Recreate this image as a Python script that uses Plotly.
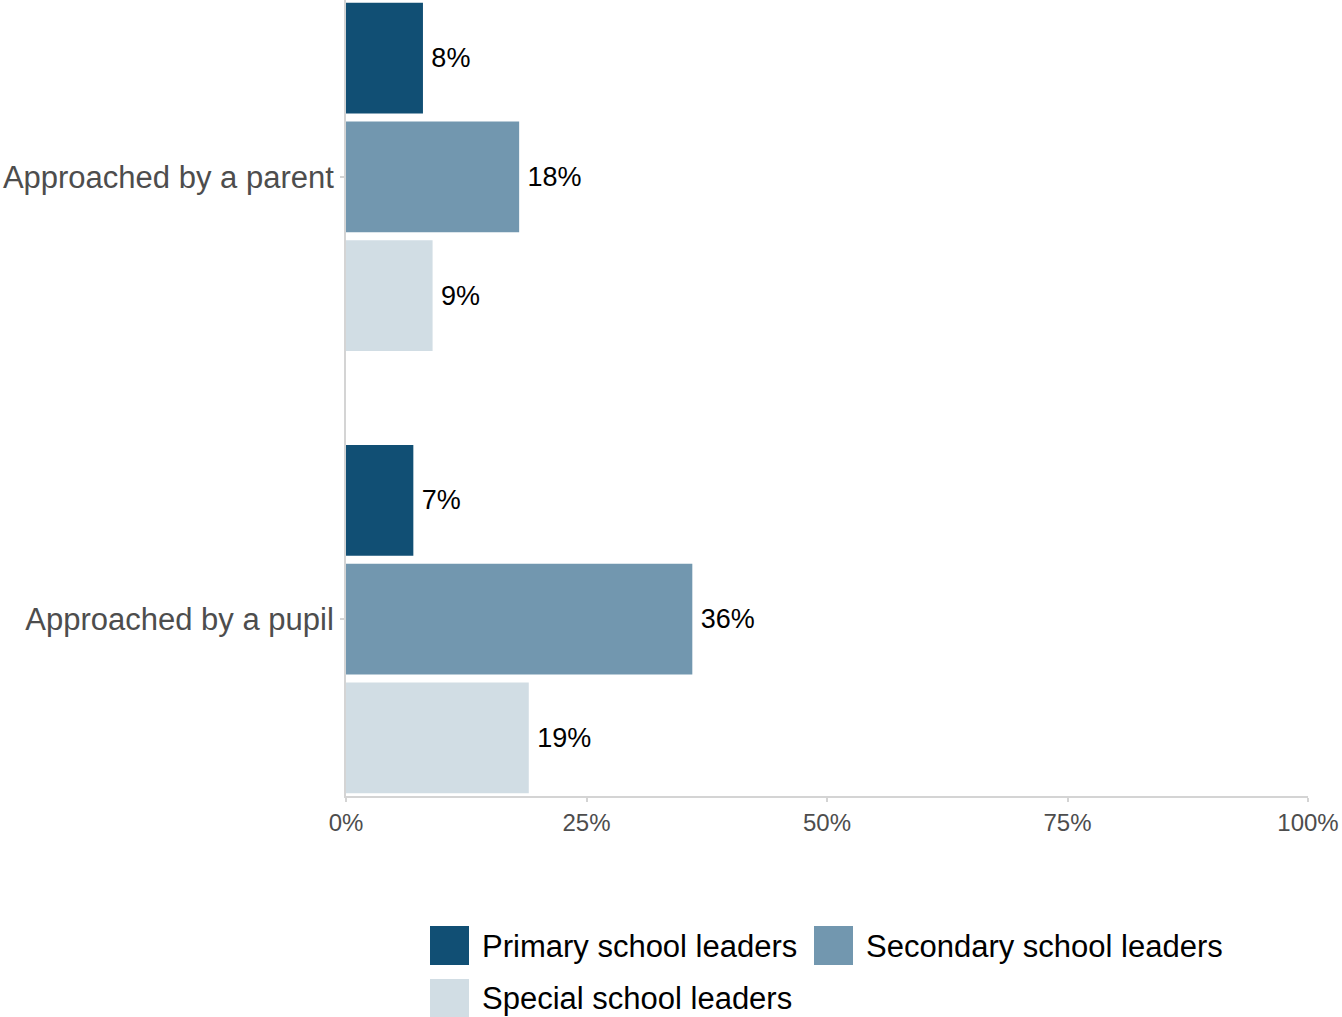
import plotly.graph_objects as go

# Survey share of school leaders approached, by phase
categories = ["Approached by a parent", "Approached by a pupil"]
series_names = ["Primary school leaders", "Secondary school leaders", "Special school leaders"]
primary = [8, 7]
secondary = [18, 36]
special = [9, 19]
series_values = [primary, secondary, special]
colors = ["#114f74", "#7297af", "#d1dde4"]

x_ticks = [0, 25, 50, 75, 100]
x_tick_labels = ["0%", "25%", "50%", "75%", "100%"]

FONT = "Liberation Sans, Arial, sans-serif"
AXIS_GREY = "#d4d4d4"

fig = go.Figure()
for name, vals, col in zip(series_names, series_values, colors):
    fig.add_trace(go.Bar(
        y=categories,
        x=vals,
        orientation="h",
        name=name,
        marker=dict(color=col, line=dict(width=0)),
        # thin space keeps the value label clear of the bar end
        text=[f"\u2009{v}%" for v in vals],
        textposition="outside",
        textfont=dict(family=FONT, size=27, color="#000000"),
        cliponaxis=False,
        showlegend=False,
    ))

# plot area in pixels (for placing the legend below the axis)
W, H = 1342, 1017
L, R, T, B = 346, 34, 0, 221
pw, ph = W - L - R, H - T - B


def px(x):
    return (x - L) / pw


def py(y):
    return (H - B - y) / ph


legend_items = [
    (series_names[0], colors[0], 430, 926),
    (series_names[1], colors[1], 814, 926),
    (series_names[2], colors[2], 430, 979),
]
shapes = []
annotations = []
for name, col, x0, y0 in legend_items:
    shapes.append(dict(
        type="rect", xref="paper", yref="paper",
        x0=px(x0), x1=px(x0 + 39), y0=py(y0), y1=py(y0 + 39),
        fillcolor=col, line=dict(width=0),
    ))
    annotations.append(dict(
        xref="paper", yref="paper", x=px(x0 + 50), y=py(y0 + 20),
        xanchor="left", yanchor="middle", showarrow=False,
        text=name, font=dict(family=FONT, size=31, color="#000000"),
    ))

fig.update_layout(
    width=W, height=H,
    margin=dict(l=L, r=R, t=T, b=B, pad=0, autoexpand=False),
    paper_bgcolor="white", plot_bgcolor="white",
    barmode="group", bargap=0.194, bargroupgap=0.067,
    font=dict(family=FONT),
    shapes=shapes,
    annotations=annotations,
    xaxis=dict(
        range=[0, 100], tickvals=x_ticks, ticktext=x_tick_labels,
        showgrid=False, zeroline=False, automargin=False,
        showline=True, linecolor=AXIS_GREY, linewidth=2,
        ticks="outside", ticklen=4, tickwidth=2, tickcolor=AXIS_GREY,
        tickfont=dict(family=FONT, size=24, color="#4d4d4d"),
    ),
    yaxis=dict(
        type="category", categoryorder="array", categoryarray=categories,
        range=[1.4, -0.4], automargin=False,
        showgrid=False, zeroline=False,
        showline=True, linecolor=AXIS_GREY, linewidth=2,
        ticks="outside", ticklen=4, tickwidth=2, tickcolor=AXIS_GREY,
        tickfont=dict(family=FONT, size=31, color="#4d4d4d"),
    ),
)

fig.write_html("out.html")
